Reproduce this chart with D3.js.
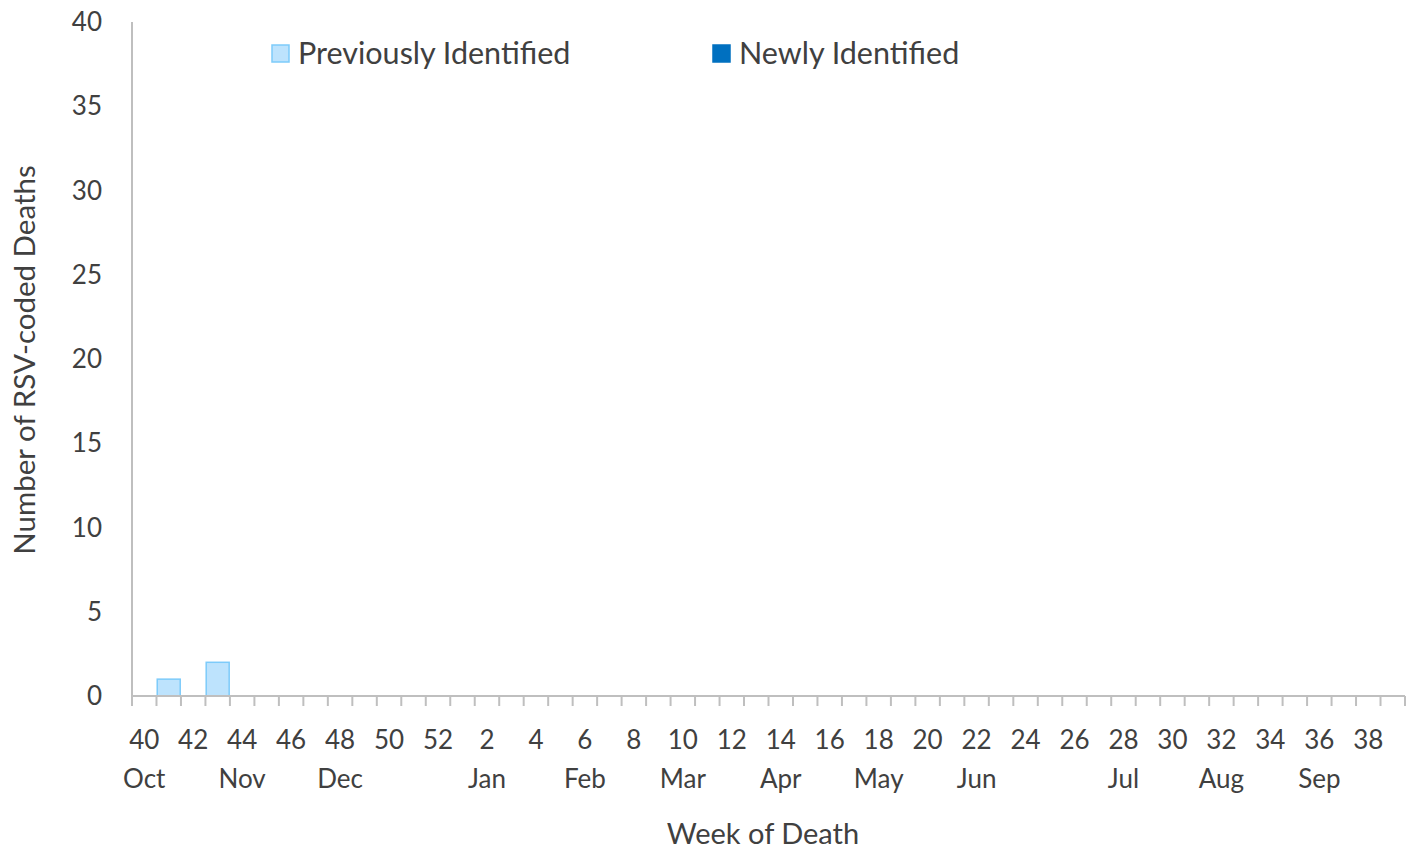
<!DOCTYPE html>
<html><head><meta charset="utf-8">
<script src="https://cdn.jsdelivr.net/npm/d3@7"></script>
<style>
body{margin:0;background:#fff;}
text{font-family:"Lato","Noto Sans",sans-serif;fill:#404040;}
</style></head>
<body><svg id="c" width="1411" height="849"></svg>
<script>
const weeks = [40,41,42,43,44,45,46,47,48,49,50,51,52,1,2,3,4,5,6,7,8,9,10,11,12,13,14,15,16,17,18,19,20,21,22,23,24,25,26,27,28,29,30,31,32,33,34,35,36,37,38,39];
const previouslyIdentified = [0,1,0,2,0,0,0,0,0,0,0,0,0,0,0,0,0,0,0,0,0,0,0,0,0,0,0,0,0,0,0,0,0,0,0,0,0,0,0,0,0,0,0,0,0,0,0,0,0,0,0,0];
const newlyIdentified = weeks.map(() => 0);
const weekLabels = [40,42,44,46,48,50,52,2,4,6,8,10,12,14,16,18,20,22,24,26,28,30,32,34,36,38];
const monthWeeks = [40,44,48,2,6,10,14,18,22,28,32,36];
const monthNames = ["Oct","Nov","Dec","Jan","Feb","Mar","Apr","May","Jun","Jul","Aug","Sep"];
const yTicks = [0,5,10,15,20,25,30,35,40];
const seriesNames = ["Previously Identified","Newly Identified"];

const svg = d3.select("#c");
const L = 132, R = 1405, T = 22, B = 696;
const x = d3.scaleBand().domain(weeks).range([L, R]).padding(0);
const y = d3.scaleLinear().domain([0, 40]).range([B, T]);
const axisColor = "#bfbfbf";

const stack = d3.stack().keys(["prev","newly"])(weeks.map((w,i)=>({week:w, prev:previouslyIdentified[i], newly:newlyIdentified[i]})));
const fills = [{fill:"#bde3fd", stroke:"#7dcbfa"},{fill:"#0070c0", stroke:"#0070c0"}];
stack.forEach((layer, li) => {
  svg.append("g").selectAll("rect").data(layer.filter(d => d[1] - d[0] > 0)).join("rect")
    .attr("x", d => x(d.data.week) + 0.75)
    .attr("width", x.bandwidth() - 1.5)
    .attr("y", d => y(d[1]))
    .attr("height", d => y(d[0]) - y(d[1]))
    .attr("fill", fills[li].fill)
    .attr("stroke", fills[li].stroke)
    .attr("stroke-width", 1.5);
});

// y axis line
svg.append("line").attr("x1", L).attr("x2", L).attr("y1", T).attr("y2", B).attr("stroke", axisColor).attr("stroke-width", 2);
// y labels
svg.append("g").selectAll("text").data(yTicks).join("text")
  .attr("x", 102).attr("y", d => y(d)).attr("dy", "0.35em")
  .attr("text-anchor", "end").attr("font-size", 26).text(d => d);

// x axis line and ticks at band edges
svg.append("line").attr("x1", L).attr("x2", R).attr("y1", B).attr("y2", B).attr("stroke", axisColor).attr("stroke-width", 2);
const edges = weeks.map(w => x(w)).concat([R]);
svg.append("g").selectAll("line").data(edges).join("line")
  .attr("x1", d => d).attr("x2", d => d).attr("y1", B).attr("y2", B + 10)
  .attr("stroke", axisColor).attr("stroke-width", 2);

svg.append("g").selectAll("text").data(weekLabels).join("text")
  .attr("x", d => x(d) + x.bandwidth()/2).attr("y", 749)
  .attr("text-anchor", "middle").attr("font-size", 26).text(d => d);
svg.append("g").selectAll("text").data(monthWeeks).join("text")
  .attr("x", d => x(d) + x.bandwidth()/2).attr("y", 788)
  .attr("text-anchor", "middle").attr("font-size", 26).text((d,i) => monthNames[i]);

// axis titles
svg.append("text").attr("x", 763).attr("y", 844).attr("text-anchor", "middle").attr("font-size", 29).text("Week of Death");
svg.append("text").attr("transform", "translate(35,360) rotate(-90)").attr("text-anchor", "middle").attr("font-size", 29.5).text("Number of RSV-coded Deaths");

// legend
const legX = [271, 712];
seriesNames.forEach((n, i) => {
  svg.append("rect").attr("x", legX[i] + 1).attr("y", 45).attr("width", 17).attr("height", 17)
    .attr("fill", fills[i].fill).attr("stroke", fills[i].stroke).attr("stroke-width", 1.5);
  svg.append("text").attr("x", legX[i] + 27).attr("y", 64).attr("font-size", 30.5).text(n);
});
</script></body></html>
